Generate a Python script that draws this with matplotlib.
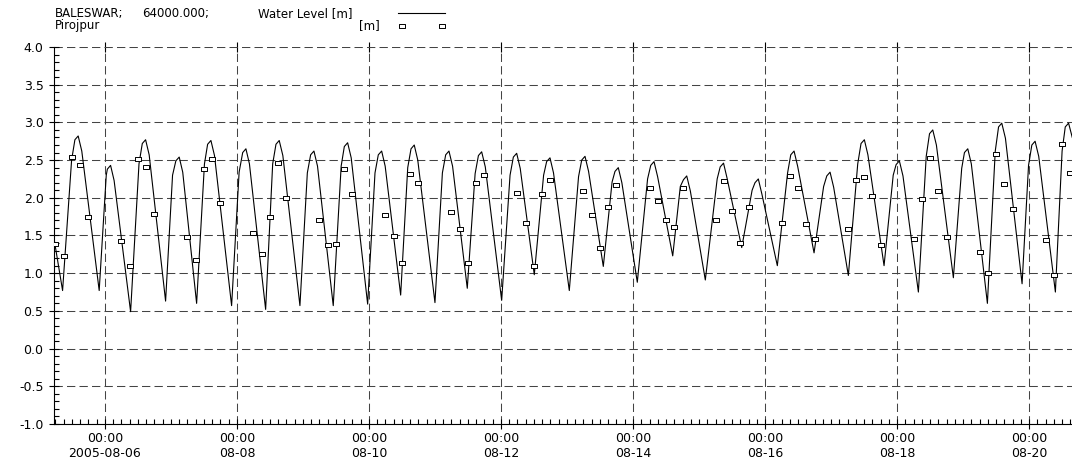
import numpy as np
import matplotlib
matplotlib.use('Agg')
import matplotlib.pyplot as plt
from matplotlib.ticker import MultipleLocator, FixedLocator, FixedFormatter
from matplotlib.path import Path
from matplotlib.lines import Line2D

# all times are hours after 2005-08-05 00:00

# BALESWAR; 64000.000 simulated water level [m]
low_h = [8.62, 21.93, 33.35, 46.07, 57.35, 70.07, 82.44, 94.91, 107.02, 119.53,
         131.53, 144.0, 155.75, 168.25, 180.11, 192.84, 205.2, 217.56, 230.44, 242.29,
         255.53, 268.47, 281.82, 294.29, 307.27, 319.75, 332.47, 344.84, 357.45, 369.56]
low_wl = [0.77, 0.77, 0.49, 0.63, 0.60, 0.57, 0.52, 0.57, 0.57, 0.59,
          0.71, 0.61, 0.80, 0.64, 0.98, 0.77, 1.09, 0.88, 1.23, 0.91,
          1.34, 1.10, 1.27, 0.97, 1.10, 0.75, 0.94, 0.60, 0.86, 0.75]
# bend on the flood limb
shoulder_h = [11.9, 24.5, 36.4, 48.6, 60.2, 72.8, 85.0, 97.6, 109.9, 122.2,
              134.1, 146.7, 158.6, 171.3, 183.5, 196.2, 208.4, 221.3, 233.2, 246.6,
              259.3, 272.2, 285.3, 297.7, 310.6, 322.6, 335.5, 347.7, 359.8, 372.0]
shoulder_wl = [2.50, 2.30, 2.45, 2.30, 2.45, 2.34, 2.45, 2.33, 2.42, 2.33,
               2.40, 2.33, 2.32, 2.30, 2.30, 2.28, 2.21, 2.25, 2.15, 2.25,
               2.10, 2.33, 2.15, 2.45, 2.30, 2.55, 2.39, 2.62, 2.43, 2.62]
# just before high water
pre_h = [13.1, 24.9, 37.6, 49.8, 61.35, 74.1, 86.2, 98.8, 111.05, 123.4,
         135.3, 147.9, 159.8, 172.5, 184.6, 197.35, 209.45, 222.45, 234.35, 247.7,
         260.35, 273.35, 286.45, 298.9, 311.65, 323.8, 336.5, 348.9, 361.0, 373.15]
pre_wl = [2.77, 2.38, 2.72, 2.49, 2.71, 2.60, 2.71, 2.57, 2.68, 2.57,
          2.65, 2.57, 2.56, 2.54, 2.48, 2.50, 2.35, 2.43, 2.24, 2.41,
          2.20, 2.57, 2.29, 2.72, 2.44, 2.85, 2.60, 2.94, 2.70, 2.94]
high_h = [14.29, 26.07, 38.80, 51.02, 62.55, 75.27, 87.38, 100.0, 112.25, 124.62,
          136.47, 149.09, 160.98, 173.71, 185.82, 198.55, 210.65, 223.64, 235.53, 248.91,
          261.56, 274.55, 287.64, 300.11, 312.84, 324.98, 337.71, 350.07, 362.18, 374.36]
high_wl = [2.82, 2.43, 2.77, 2.54, 2.76, 2.65, 2.76, 2.62, 2.73, 2.62,
           2.70, 2.62, 2.61, 2.59, 2.53, 2.55, 2.40, 2.48, 2.29, 2.46,
           2.25, 2.62, 2.34, 2.77, 2.49, 2.90, 2.65, 2.99, 2.75, 2.99]
# just after high water, start of the ebb
post_h = [15.6, 27.35, 40.1, 52.3, 63.85, 76.55, 88.7, 101.3, 113.55, 125.9,
          137.75, 150.4, 162.3, 175.0, 187.1, 199.85, 211.95, 224.95, 236.85, 250.2,
          262.85, 275.85, 288.95, 301.4, 314.15, 326.3, 339.0, 351.4, 363.5]
post_wl = [2.62, 2.23, 2.57, 2.34, 2.56, 2.45, 2.56, 2.42, 2.53, 2.42,
           2.50, 2.42, 2.41, 2.39, 2.33, 2.35, 2.20, 2.28, 2.09, 2.26,
           2.05, 2.42, 2.14, 2.57, 2.29, 2.70, 2.45, 2.79, 2.55]
edge_h = [5.5, 375.7]
edge_wl = [1.46, 2.80]

# Pirojpur gauge readings, 5 a day
obs_hours = [6, 9, 12, 15, 18]
obs_levels = [
    [1.39, 1.23, 2.54, 2.44, 1.75],   # 08-05
    [1.43, 1.10, 2.51, 2.41, 1.78],
    [1.48, 1.17, 2.38, 2.51, 1.93],
    [1.53, 1.26, 1.75, 2.46, 2.00],
    [1.70, 1.38, 1.39, 2.38, 2.05],
    [1.77, 1.49, 1.14, 2.31, 2.19],   # 08-10
    [1.81, 1.58, 1.13, 2.19, 2.30],
    [2.07, 1.66, 1.09, 2.05, 2.23],
    [2.09, 1.77, 1.34, 1.88, 2.17],
    [2.13, 1.96, 1.70, 1.61, 2.13],
    [1.70, 2.22, 1.83, 1.40, 1.88],   # 08-15
    [1.66, 2.29, 2.13, 1.65, 1.45],
    [1.58, 2.24, 2.27, 2.03, 1.37],
    [1.46, 1.98, 2.53, 2.09, 1.48],
    [1.28, 1.00, 2.58, 2.18, 1.85],
    [1.44, 0.98, 2.71, 2.33],         # 08-20
]

tick_hours = [24, 72, 120, 168, 216, 264, 312, 360]
tick_labels = ['00:00\n2005-08-06', '00:00\n08-08', '00:00\n08-10', '00:00\n08-12',
               '00:00\n08-14', '00:00\n08-16', '00:00\n08-18', '00:00\n08-20']

plt.rcParams['axes.unicode_minus'] = False
plt.rcParams['font.family'] = ['DejaVu Sans']

# merge the line points in time order
line_h = np.array(low_h + shoulder_h + pre_h + high_h + post_h + edge_h)
line_wl = np.array(low_wl + shoulder_wl + pre_wl + high_wl + post_wl + edge_wl)
order = np.argsort(line_h)
line_h, line_wl = line_h[order], line_wl[order]

obs_h, obs_wl = [], []
for d, row in enumerate(obs_levels):
    for hr, v in zip(obs_hours, row):
        obs_h.append(24 * d + hr)
        obs_wl.append(v)

W, H = 1072, 466
fig = plt.figure(figsize=(W / 100, H / 100), dpi=100)
ax = fig.add_axes([54 / W, (H - 424) / H, (W - 54) / W, (424 - 47) / H])

rect = Path([(-0.7, -0.5), (0.7, -0.5), (0.7, 0.5), (-0.7, 0.5), (-0.7, -0.5)], closed=True)

ax.plot(line_h, line_wl, color='black', lw=0.8, zorder=3, solid_joinstyle='round')
ax.plot(obs_h, obs_wl, ls='none', marker=rect, ms=4.4, mfc='white', mec='black',
        mew=0.7, zorder=4)

ax.set_xlim(5.5, 375.6)
ax.set_ylim(-1.0, 4.0)

ax.xaxis.set_major_locator(FixedLocator(tick_hours))
ax.xaxis.set_major_formatter(FixedFormatter(tick_labels))
ax.xaxis.set_minor_locator(MultipleLocator(3))
ax.yaxis.set_major_locator(MultipleLocator(0.5))
ax.yaxis.set_minor_locator(MultipleLocator(0.1))
ax.yaxis.set_major_formatter(plt.FormatStrFormatter('%.1f'))

dash = (0, (8, 4))
ax.grid(True, which='major', color='#444444', lw=0.75, ls=dash)
ax.set_axisbelow(True)

for s in ['top', 'right']:
    ax.spines[s].set_visible(False)
for s in ['left', 'bottom']:
    ax.spines[s].set_linewidth(0.8)

ax.tick_params(which='major', direction='inout', length=7, width=0.8,
               labelsize=9, pad=2.5, colors='black')
ax.tick_params(axis='y', which='major', pad=4)
ax.tick_params(which='minor', direction='in', length=3.6, width=0.8)
ax.tick_params(axis='x', which='major', top=True, labeltop=False)

# legend drawn above the plot like the original
def fx(px):
    return px / W

def fy(py):
    return 1 - py / H

fs = 8.5
fig.text(fx(55), fy(17.5), 'BALESWAR;', fontsize=fs, va='baseline')
fig.text(fx(142), fy(17.5), '64000.000;', fontsize=fs, va='baseline')
fig.text(fx(258), fy(17.5), 'Water Level [m]', fontsize=fs, va='baseline')
fig.text(fx(55), fy(29.5), 'Pirojpur', fontsize=fs, va='baseline')
fig.text(fx(380), fy(29.5), '[m]', fontsize=fs, va='baseline', ha='right')
fig.add_artist(Line2D([fx(398), fx(445)], [fy(13.3), fy(13.3)], color='black', lw=0.8))
fig.add_artist(Line2D([fx(402), fx(442)], [fy(25.5), fy(25.5)], ls='none', marker=rect,
                      ms=4.4, mfc='white', mec='black', mew=0.7))

fig.savefig('out.png', dpi=100)
